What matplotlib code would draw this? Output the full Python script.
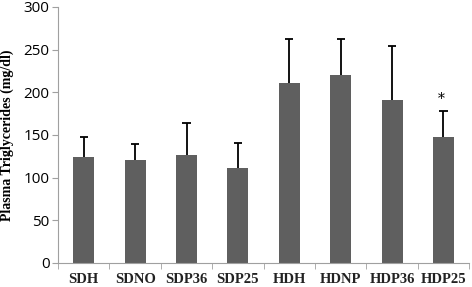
import matplotlib.pyplot as plt
import numpy as np

groups = ["SDH", "SDNO", "SDP36", "SDP25", "HDH", "HDNP", "HDP36", "HDP25"]
means = [124, 120, 127, 111, 211, 220, 191, 148]
errors = [24, 19, 37, 29, 51, 42, 63, 30]
star_groups = ["HDP25"]

fig = plt.figure(figsize=(4.72, 2.87), dpi=100)
ax = fig.add_axes([0.123, 0.084, 0.871, 0.892])

x = np.arange(len(groups))
tops = np.array(means) + np.array(errors)
ax.bar(x, means, width=0.41, color="#5f5f5f", zorder=2)
# upper-only error bars with a cap
ax.vlines(x, means, tops, color="black", linewidth=1.3, zorder=3)
ax.hlines(tops, x - 0.08, x + 0.08, color="black", linewidth=1.3, zorder=3)

for i, g in enumerate(groups):
    if g in star_groups:
        ax.text(i - 0.05, tops[i] + 6, "*", ha="center", va="bottom",
                fontsize=10, family="DejaVu Serif")

ax.set_xlim(-0.5, len(groups) - 0.5)
ax.set_ylim(0, 300)
ax.set_yticks(range(0, 301, 50))
ax.set_xticks(x)
ax.set_xticklabels(groups, family="Liberation Serif", fontsize=10.5, fontweight="bold",
                   color="#222222")
ax.set_xticks(np.arange(-0.5, len(groups) + 0.5, 1), minor=True)
ax.tick_params(axis="x", which="major", length=0, pad=7)
ax.tick_params(axis="x", which="minor", length=4, color="#a0a0a0")
ax.tick_params(axis="y", length=4, color="#a0a0a0", labelsize=11, pad=2)
for lbl in ax.get_yticklabels():
    lbl.set_family("Open Sans")
ax.set_ylabel("Plasma Triglycerides (mg/dl)", family="Liberation Serif",
              fontweight="bold", fontsize=10, labelpad=7)

for s in ["top", "right"]:
    ax.spines[s].set_visible(False)
for s in ["left", "bottom"]:
    ax.spines[s].set_color("#a0a0a0")

fig.savefig("out.png", dpi=100)
